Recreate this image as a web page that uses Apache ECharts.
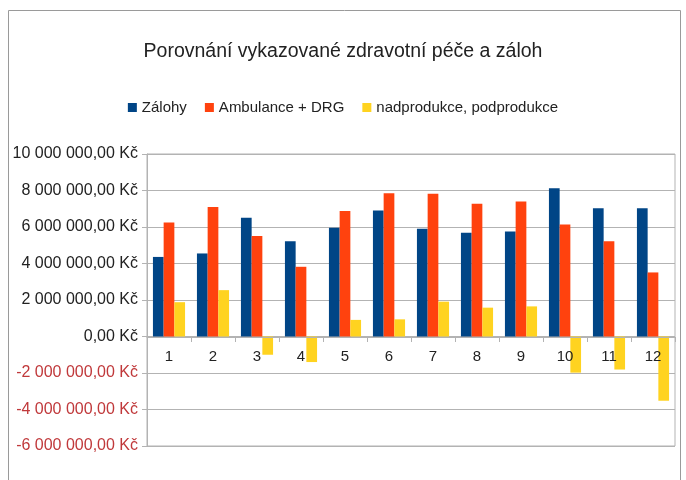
<!DOCTYPE html>
<html><head><meta charset="utf-8">
<script src="https://cdn.jsdelivr.net/npm/echarts@6/dist/echarts.min.js"></script>
<style>html,body{margin:0;padding:0;background:#fff}#c{width:686px;height:480px}</style>
</head><body><div id="c"></div>
<script>
const titleText = 'Porovnání vykazované zdravotní péče a záloh';
const categories = ['1','2','3','4','5','6','7','8','9','10','11','12'];
const zalohy = [4360000, 4550000, 6510000, 5220000, 5960000, 6910000, 5910000, 5690000, 5750000, 8120000, 7030000, 7030000];
const ambulance = [6240000, 7090000, 5510000, 3820000, 6870000, 7850000, 7820000, 7270000, 7400000, 6140000, 5220000, 3510000];
const nadprodukce = [1880000, 2540000, -1000000, -1400000, 910000, 940000, 1910000, 1580000, 1650000, -1980000, -1810000, -3520000];
const seriesNames = ['Zálohy', 'Ambulance + DRG', 'nadprodukce, podprodukce'];
const colors = ['#004586', '#ff420e', '#ffd320'];

function fmt(v){
  const neg = v < 0;
  const s = Math.abs(v).toFixed(0).replace(/\B(?=(\d{3})+(?!\d))/g, ' ');
  const t = (neg ? '-' : '') + s + ',00 Kč';
  return neg ? '{n|' + t + '}' : '{p|' + t + '}';
}
const font = '"Liberation Sans", Arial, sans-serif';
const chart = echarts.init(document.getElementById('c'), null, {renderer:'canvas'});
chart.setOption({
  animation:false,
  backgroundColor:'#fff',
  color: colors,
  title:{text:titleText, left:'center', top:37, textStyle:{fontFamily:font, fontSize:19.5, fontWeight:'normal', color:'#222'}},
  legend:{top:95, left:'center', itemWidth:9, itemHeight:9, itemGap:18, itemTextGap:4, icon:'rect',
    textStyle:{fontFamily:font, fontSize:15, color:'#222'}, data:seriesNames},
  grid:{left:147, right:11, top:154, bottom:34, show:true, borderColor:'#b3b3b3', borderWidth:1, containLabel:false},
  graphic:[{type:'rect', shape:{x:8.5, y:10.5, width:672, height:480}, style:{fill:null, stroke:'#9a9a9a', lineWidth:1}, silent:true}],
  xAxis:{type:'category', data:categories, position:'bottom', offset:-109, z:5,
    axisLine:{onZero:false, lineStyle:{color:'#b3b3b3'}},
    axisTick:{show:true, length:5, lineStyle:{color:'#b3b3b3'}},
    axisLabel:{fontFamily:font, fontSize:15, color:'#222', margin:12}},
  yAxis:{type:'value', min:-6000000, max:10000000, interval:2000000,
    axisLine:{show:true, lineStyle:{color:'#b3b3b3'}},
    axisTick:{show:true, length:5, lineStyle:{color:'#b3b3b3'}},
    splitLine:{lineStyle:{color:'#b3b3b3'}},
    axisLabel:{margin:9, formatter:fmt, rich:{
      p:{fontFamily:font, fontSize:16, color:'#222'},
      n:{fontFamily:font, fontSize:16, color:'#c0393b'}}}},
  series:[
    {name:seriesNames[0], type:'bar', data:zalohy, barGap:'0%', barCategoryGap:'27%'},
    {name:seriesNames[1], type:'bar', data:ambulance, barGap:'0%', barCategoryGap:'27%'},
    {name:seriesNames[2], type:'bar', data:nadprodukce, barGap:'0%', barCategoryGap:'27%'}
  ]
});
</script></body></html>
